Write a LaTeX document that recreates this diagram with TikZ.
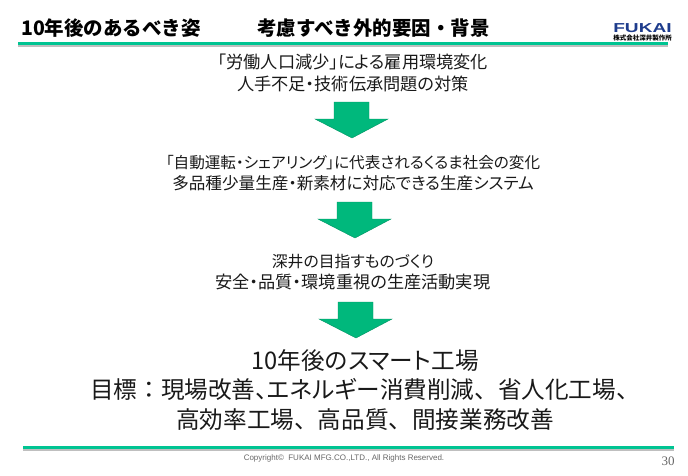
\documentclass[tikz,border=0pt]{standalone}
\usepackage{fontspec}
\usepackage{xcolor}
\setmainfont{Noto Sans CJK JP}
\newfontfamily\jpfont[Language=Japanese,RawFeature={+palt}]{Noto Sans CJK JP}
\newfontfamily\jpplain[Language=Japanese]{Noto Sans CJK JP}
\newfontfamily\logofont{Liberation Sans}
\newfontfamily\numfont{Liberation Serif}
\definecolor{rulegreen}{RGB}{0,196,146}
\definecolor{arrowgreen}{RGB}{0,184,124}
\definecolor{logoblue}{RGB}{30,60,140}
\newcommand{\linesize}[1]{\fontsize{#1}{21.5}\selectfont}
\tikzset{
  x=1pt,y=-1pt,
  body/.style={font=\jpfont\fontsize{17.2}{21.5}\selectfont,text=black!90,align=center,inner sep=0},
  big/.style={font=\jpplain\fontsize{23.6}{29.5}\selectfont,text=black!90,align=center,inner sep=0},
  head/.style={font=\jpplain\bfseries\fontsize{19.5}{22}\selectfont,inner sep=0,anchor=west},
}
\begin{document}
\begin{tikzpicture}
        \useasboundingbox (0,0) rectangle (688,475);
        % title and rules
        \node[head] (title) at (21,28) {10年後のあるべき姿};
        \node[head] (factor) at (257,28) {考慮すべき外的要因・背景};
        \fill[black!25] (18,45) rectangle (668,47);
        \fill[rulegreen] (18,42) rectangle (668,45);
        \fill[black!25] (23,449) rectangle (674,450.5);
        \fill[rulegreen] (23,445.5) rectangle (674,449);
        % logo
        \node[font=\logofont\bfseries\fontsize{13}{13}\selectfont,text=logoblue,inner sep=0,xscale=1.47] (logo) at (642.5,28.5) {FUKAI};
        \node[font=\jpfont\bfseries\fontsize{6.5}{6.5}\selectfont,inner sep=0] (company) at (642.5,38) {株式会社深井製作所};
        % text blocks
        \node[body] (labor) at (353,73) {「労働人口減少」による雇用環境変化\\人手不足・技術伝承問題の対策};
        \node[body] (auto) at (353,173) {{\linesize{15.6}「自動運転・シェアリング」に代表されるくるま社会の変化}\\{\linesize{16.6}多品種少量生産・新素材に対応できる生産システム}};
        \node[body] (fukai) at (353,272) {{\linesize{15.8}深井の目指すものづくり}\\安全・品質・環境重視の生産活動実現};
        \node[big] (goal) at (365,390) {10年後の{\jpfont スマート}工場\\目標：現場改善{\jpfont 、}{\jpfont エネルギー}消費削減、省人化工場、\\高効率工場、高品質、間接業務改善};
        % arrows
        \foreach \xmid/\ytop in {352/102,355/202,356/302} {
          \filldraw[fill=arrowgreen,draw=arrowgreen!80!black,line width=.4pt]
            (\xmid-18,\ytop) -- (\xmid+17,\ytop) -- (\xmid+17,\ytop+17) -- (\xmid+36,\ytop+17)
            -- (\xmid,\ytop+36) -- (\xmid-37,\ytop+17) -- (\xmid-18,\ytop+17) -- cycle;
        }
        % footer
        \node[font=\logofont\fontsize{8}{9}\selectfont,text=black!60,inner sep=0] (copy) at (344,458) {Copyright©\ \ FUKAI MFG.CO.,LTD., All Rights Reserved.};
        \node[font=\numfont\fontsize{13}{14}\selectfont,text=black!60,inner sep=0] (page) at (668,461) {30};
\end{tikzpicture}
\end{document}
